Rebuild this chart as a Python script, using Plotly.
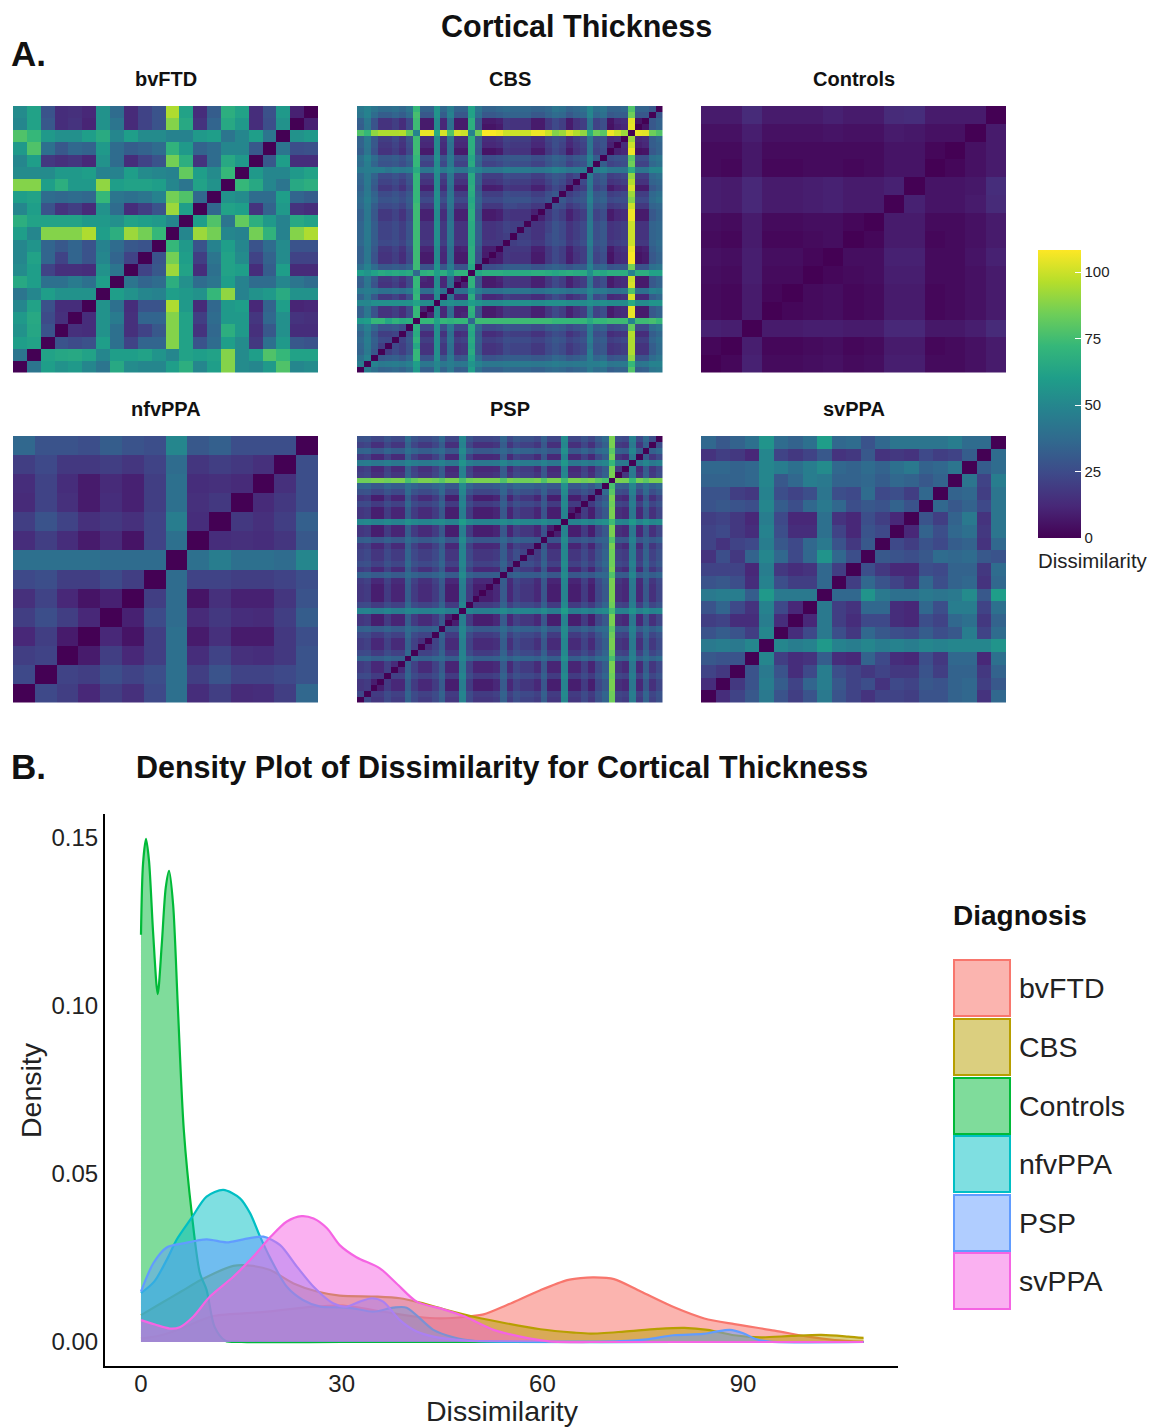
import plotly.graph_objects as go

GROUPS = ["bvFTD", "CBS", "Controls", "nfvPPA", "PSP", "svPPA"]
COLORS = ["#F8766D", "#B79F00", "#00BA38", "#00BFC4", "#619CFF", "#F564E3"]
FILLS = ["rgba(248,118,109,0.55)", "rgba(183,159,0,0.5)", "rgba(0,186,56,0.5)",
         "rgba(0,191,196,0.5)", "rgba(97,156,255,0.5)", "rgba(245,100,227,0.5)"]
CB_TICKS = [0, 25, 50, 75, 100]
DENS_X_TICKS = [0, 30, 60, 90]
DENS_Y_TICKS = [0.00, 0.05, 0.10, 0.15]

# Each matrix: rows counted from the bottom of the panel, cells left of the diagonal.
BVFTD = [
[42],
[60,62],
[55,64,28],
[58,65,25,15],
[50,62,27,14,14],
[42,50,60,55,55,55],
[65,60,40,40,45,40,60],
[52,60,22,15,15,14,55,42],
[50,62,35,22,35,28,50,35,22],
[50,56,35,30,35,28,48,38,30,28],
[60,50,88,88,88,95,60,68,92,85,72],
[68,62,62,62,62,58,58,54,62,60,58,50],
[50,60,28,16,20,13,55,38,14,20,28,92,60],
[60,62,38,36,38,36,72,42,40,42,48,85,78,36],
[88,88,60,68,58,58,90,60,62,62,60,50,42,62,55],
[52,52,52,58,58,60,48,48,60,52,50,48,82,60,52,72],
[50,60,18,15,17,12,55,38,14,22,28,85,68,16,38,65,58],
[58,78,40,30,36,34,58,38,32,34,38,70,58,34,38,50,50,30],
[78,72,58,54,54,60,66,50,60,52,52,48,48,58,60,42,50,60,42],
[50,62,30,14,16,11,55,42,13,22,28,88,65,16,35,65,58,14,26,55],
[52,62,28,14,15,12,55,38,13,22,28,95,62,14,32,68,62,14,27,58,10],
]

CBS = [
[46],
[40,48],
[34,44,30],
[35,45,32,20],
[37,46,33,25,24],
[34,44,30,20,20,22],
[40,47,36,28,28,30,26],
[58,60,72,72,64,70,66,68],
[33,43,28,16,16,20,14,24,72],
[33,43,28,16,16,20,14,24,72,10],
[50,50,54,54,54,54,54,55,62,52,52],
[34,43,30,18,18,22,16,26,72,12,12,52],
[44,46,44,40,40,42,40,44,70,38,38,54,40],
[32,42,28,16,16,20,14,24,72,10,10,52,12,40],
[33,43,30,18,18,22,16,24,72,12,10,52,12,40,10],
[60,56,62,66,64,66,64,66,36,68,70,60,68,58,70,70],
[40,48,38,30,30,32,30,34,74,28,28,56,30,46,28,28,64],
[33,43,28,16,16,20,14,24,74,8,8,52,12,40,8,8,68,26],
[33,43,28,16,16,20,14,24,74,8,8,52,12,40,8,8,68,26,8],
[33,43,30,18,18,22,16,26,74,11,11,52,14,40,10,11,68,28,9,9],
[36,44,32,24,24,26,22,30,74,18,18,54,20,42,18,18,66,32,18,18,18],
[35,44,32,22,22,25,20,28,74,16,16,54,18,42,16,16,66,32,16,16,18,20],
[35,44,32,22,22,25,20,28,74,16,16,54,18,42,16,16,66,32,16,16,18,22,20],
[35,44,32,22,22,25,20,28,74,16,16,54,18,42,16,16,66,32,16,16,18,22,20,20],
[33,43,30,18,18,22,16,25,74,10,10,52,14,40,10,10,68,28,8,8,10,18,16,16,16],
[33,43,30,18,18,22,16,25,74,10,10,52,14,40,10,10,68,28,8,8,10,18,16,16,16,10],
[36,44,32,24,24,26,22,30,74,18,18,54,20,42,18,18,66,32,18,18,18,24,24,22,22,18,18],
[38,46,36,28,28,30,26,32,72,24,24,54,26,44,24,24,64,34,24,24,24,28,28,28,28,24,24,28],
[36,44,34,25,25,28,24,30,72,20,20,54,22,42,20,20,66,32,20,20,20,26,24,24,24,20,20,26,30],
[33,43,30,18,18,22,16,25,72,10,10,52,14,40,10,10,68,28,9,9,10,18,16,16,16,10,10,18,24,20],
[35,44,32,22,22,25,20,28,72,16,16,52,18,42,16,16,66,32,16,16,18,22,20,20,20,16,16,22,28,24,16],
[36,44,34,25,25,28,24,30,72,20,20,52,22,42,20,20,66,32,20,20,20,26,24,24,24,20,20,26,30,28,20,24],
[44,46,46,46,42,46,44,46,66,42,42,54,44,50,42,42,54,48,42,42,42,46,44,44,44,42,42,44,48,46,42,44,44],
[38,46,35,28,28,30,26,32,72,22,22,52,24,44,22,22,66,34,22,22,24,28,26,26,26,22,22,28,32,30,22,26,28,46],
[40,48,38,30,30,32,28,34,72,26,26,54,28,44,26,26,64,36,26,26,28,30,30,30,30,26,26,30,34,32,26,30,32,48,32],
[32,42,28,16,16,20,14,24,74,8,8,52,12,40,8,8,68,28,6,6,8,18,16,16,16,8,8,18,24,20,8,16,20,42,22,26],
[34,43,30,18,18,22,16,26,74,12,12,52,14,40,12,12,68,30,12,12,14,20,18,18,18,12,12,20,26,22,12,18,22,42,24,28,10],
[34,44,30,20,20,24,18,28,74,14,14,52,16,42,14,14,68,30,14,14,16,22,20,20,20,14,14,22,26,24,14,20,24,42,26,28,12,14],
[78,72,90,95,95,95,96,82,48,105,105,66,102,78,102,100,48,85,108,108,106,100,100,100,100,106,106,100,88,92,102,96,90,68,84,80,106,100,92],
[32,42,28,16,16,20,14,24,74,8,8,52,12,40,8,8,68,28,6,6,8,18,16,16,16,8,8,18,24,20,8,16,20,42,22,26,5,10,12,105],
[33,43,28,16,16,20,14,24,74,8,8,52,12,40,8,8,68,28,8,8,10,18,16,16,16,8,8,18,24,20,8,16,20,42,22,26,6,12,14,104,6],
[42,48,38,32,32,35,32,38,76,30,30,56,32,48,30,30,62,40,30,30,32,34,34,34,34,30,30,34,38,36,30,34,36,50,36,40,30,32,32,84,30,30],
[44,48,42,38,38,40,36,42,72,34,34,56,36,46,34,34,62,42,34,34,36,38,36,36,36,34,34,36,42,40,34,36,40,50,40,42,34,34,36,78,34,34,30],
]

CONTROLS = [
[2],
[10,9],
[3,2,8],
[3,2,8,2],
[4,3,9,3,3],
[5,4,9,4,4,2],
[3,2,8,2,2,3,4],
[4,3,8,3,3,4,4,2],
[9,8,12,8,8,9,10,8,8],
[9,8,12,8,8,9,10,8,8,10],
[3,2,7,2,2,3,3,2,3,6,6],
[3,3,7,3,3,3,3,3,3,6,6,2],
[5,5,9,5,5,5,6,5,5,8,7,5,5],
[8,8,13,8,8,8,10,8,8,13,14,8,8,8],
]

NFVPPA = [
[24],
[20,22],
[12,20,8],
[20,26,20,12],
[15,22,12,6,10],
[24,26,20,20,25,20],
[40,40,40,40,38,38,38],
[14,20,14,8,13,6,22,40],
[20,28,22,15,18,15,22,46,14],
[13,22,15,8,14,10,20,40,15,18],
[14,22,14,8,13,10,20,40,14,15,13],
[20,24,18,18,20,17,22,38,17,20,18,15],
[36,28,28,26,32,28,26,50,30,33,26,26,26],
]

PSP = [
[24],
[17,19],
[17,19,9],
[24,25,19,19],
[19,21,12,12,21],
[19,21,12,12,21,13],
[34,35,32,32,35,33,33],
[24,25,19,19,25,21,21,36],
[19,21,12,12,21,13,13,33,21],
[19,21,12,12,21,13,13,33,21,15],
[24,25,19,19,25,21,21,36,25,22,22],
[33,34,31,31,34,31,31,38,34,32,32,34],
[17,19,9,9,19,11,11,32,19,13,13,19,30],
[17,19,9,9,19,11,11,32,19,13,13,19,30,9],
[48,49,46,46,49,46,46,50,49,47,47,49,50,46,46],
[24,25,19,19,25,21,21,36,25,22,22,25,34,19,19,49],
[17,19,9,9,19,11,11,32,19,13,13,19,30,9,9,46,19],
[17,19,9,9,19,11,11,32,19,13,13,19,30,9,9,46,19,9],
[17,19,9,9,19,11,11,32,19,13,13,19,30,9,9,46,19,9,9],
[19,21,12,12,21,13,13,33,21,15,15,21,31,12,12,47,21,12,12,12],
[33,34,31,31,34,31,31,38,34,32,32,34,38,31,31,52,34,31,31,31,32],
[19,21,12,12,21,13,13,33,21,15,15,21,31,12,12,47,21,12,12,12,13,31],
[26,27,21,21,27,23,23,37,27,24,24,27,35,21,21,50,27,21,21,21,23,34,23],
[22,24,17,17,24,19,19,35,24,20,20,24,33,17,17,49,24,17,17,17,19,32,19,26],
[22,24,17,17,24,19,19,35,24,20,20,24,33,17,17,49,24,17,17,17,19,32,19,26,22],
[19,21,12,12,21,13,13,33,21,15,15,21,31,12,12,47,21,12,12,12,13,31,13,22,19,19],
[32,33,29,29,33,30,30,38,33,30,30,33,38,29,29,52,33,29,29,29,30,36,30,34,32,32,30],
[17,19,9,9,19,11,11,32,19,13,13,19,30,9,9,46,19,9,9,9,11,30,11,21,17,17,11,28],
[17,19,9,9,19,11,11,32,19,13,13,19,30,9,9,46,19,9,9,9,11,30,11,21,17,17,11,28,9],
[50,51,48,48,51,48,48,54,51,49,49,51,52,48,48,60,51,48,48,48,49,52,49,52,50,50,49,52,48,48],
[17,19,9,9,19,11,11,32,19,13,13,19,30,9,9,46,19,9,9,9,11,30,11,21,17,17,11,28,9,9,48],
[17,19,9,9,19,11,11,32,19,13,13,19,30,9,9,46,19,9,9,9,11,30,11,21,17,17,11,28,9,9,48,9],
[24,25,19,19,25,21,21,36,25,22,22,25,34,19,19,49,25,19,19,19,21,33,21,27,24,24,21,31,19,19,51,19,19],
[17,19,9,9,19,11,11,32,19,13,13,19,30,9,9,46,19,9,9,9,11,30,11,21,17,17,11,28,9,9,48,9,9,19],
[27,28,23,23,28,24,24,38,28,25,25,28,36,23,23,50,28,23,23,23,24,35,24,30,27,27,24,33,23,23,52,23,23,28,23],
[34,35,30,30,35,32,32,40,35,32,32,35,38,30,30,52,35,30,30,30,32,36,32,36,34,34,32,34,30,30,54,30,30,35,30,37],
[84,84,86,86,84,86,86,76,82,86,86,84,80,86,86,76,84,86,86,86,86,78,86,84,84,84,86,78,86,86,74,86,86,84,86,80,76],
[21,23,15,15,23,17,17,34,23,18,18,23,32,15,15,48,23,15,15,15,17,32,17,24,21,21,17,30,15,15,50,15,15,23,15,26,33,86],
[19,21,12,12,21,13,13,33,21,15,15,21,31,12,12,47,21,12,12,12,13,31,13,22,19,19,13,29,12,12,48,12,12,21,12,24,32,85,17],
[45,46,43,43,46,43,43,48,46,44,44,46,48,43,43,56,46,43,43,43,44,50,44,47,45,45,44,48,43,43,58,43,43,46,43,47,50,72,44,44],
[19,21,12,12,21,13,13,33,21,15,15,21,31,12,12,47,21,12,12,12,13,31,13,22,19,19,13,29,12,12,48,12,12,21,12,24,32,85,17,13,43],
[34,35,30,30,35,32,32,40,35,32,32,35,38,30,30,52,35,30,30,30,32,36,32,36,34,34,32,34,30,30,54,30,30,35,30,37,40,80,33,32,50,32],
[21,23,15,15,23,17,17,34,23,18,18,23,32,15,15,48,23,15,15,15,17,32,17,24,21,21,17,30,15,15,50,15,15,23,15,26,33,86,19,17,44,17,33],
[27,28,23,23,28,24,24,38,28,25,25,28,36,23,23,50,28,23,23,23,24,35,24,30,27,27,24,33,23,23,52,23,23,28,23,31,37,86,26,24,47,24,37,26],
]

SVPPA = [
[14],
[22,18],
[30,28,28],
[44,46,44,50],
[28,32,28,20,50],
[20,22,14,14,46,14],
[28,35,24,16,48,24,12],
[44,46,46,32,58,44,44,44],
[28,30,26,14,48,26,20,20,36],
[22,22,22,12,46,18,14,16,36,20],
[16,26,18,34,50,36,24,36,56,36,26],
[22,16,22,24,46,30,24,36,44,28,18,30],
[22,24,18,14,48,26,14,14,40,22,12,28,24],
[20,22,18,12,46,24,12,12,40,16,12,26,20,12],
[28,30,28,26,50,32,26,36,44,36,26,30,28,34,28],
[28,28,20,18,48,26,22,26,42,26,24,38,24,26,20,36],
[34,34,34,36,50,30,36,46,44,34,34,36,32,36,34,30,34],
[36,36,34,36,50,46,40,46,52,36,34,38,34,40,44,34,36,42],
[16,20,18,12,50,22,18,22,30,16,18,30,16,18,16,24,20,22,32],
[36,30,34,40,56,38,34,40,60,36,38,28,36,42,42,42,42,46,38,38],
]

BVFTD_X = [0,3,6,9,11,18.8,25.8,30.2,36.2,41.2,44.7,48.7,51.2,54.7,59.7,63.7,65.7,67.7,70.7,74.7,79.7,84.2,88.7,94.7,99.7,103.7,108]
BVFTD_Y = [.001,.002,.004,.0065,.0078,.009,.0105,.0108,.009,.0075,.007,.0075,.0082,.011,.0154,.0184,.019,.0192,.0187,.015,.0103,.007,.0053,.0034,.0016,.0006,.0001]
CBS_X = [0,3,6,9,13.8,16.3,19.3,22.8,26.3,29.7,35.2,38.7,41.7,45.7,49.7,54.7,59.7,64.7,67.2,72.2,77.2,81.2,84.7,88.7,92.7,97.2,101.7,105.7,108]
CBS_Y = [.008,.0115,.015,.0185,.0226,.0227,.0214,.0174,.015,.0138,.0135,.013,.0117,.0095,.0075,.0055,.0038,.0028,.0025,.0031,.0039,.0042,.0036,.002,.0014,.0018,.0021,.0016,.0012]
CONTROLS_X = [0,.3,.75,1.2,1.8,2.5,3.1,3.7,4.2,4.8,5.5,6.4,7.6,8.8,9.8,11,12.6,15,30,50,80,108]
CONTROLS_Y = [.121,.142,.1495,.143,.122,.1034,.118,.135,.14,.13,.1,.063,.038,.0205,.0155,.0045,.0004,0,0,0,0,0]
NFVPPA_X = [0,2,4,5.3,7.6,9.8,12.3,14.8,16.3,17.8,19.3,21.8,24.2,26.8,29.3,31.7,34.7,37.7,39.7,43.7,46.7,50,55,80,108]
NFVPPA_Y = [.0145,.018,.025,.0303,.037,.0432,.0452,.0427,.0383,.0313,.025,.0164,.0125,.0105,.0103,.01,.009,.0102,.0102,.0036,.0014,.0003,0,0,0]
PSP_X = [0,1.84,3.84,6.33,9.82,12.8,15.3,18.3,20.8,23.3,25.8,28.7,30.7,32.7,34.5,36.2,38.7,41.2,43.7,48.7,55,71.6,75.6,79.6,84,86,88,90,92,94,108]
PSP_Y = [.015,.0234,.0281,.0293,.0305,.0296,.0305,.0313,.0288,.0224,.0164,.0115,.0105,.012,.013,.012,.0065,.0031,.0016,.0004,.0002,.0003,.0008,.002,.0024,.0031,.0036,.0026,.0008,.0001,0]
SVPPA_X = [0,2.1,4.3,5.8,7.8,10.3,13.8,16.8,19.3,21.8,24,25.8,27.8,29.7,32.2,35.7,38.2,41.2,45.2,48.2,52.7,56.7,61,70,108]
SVPPA_Y = [.0065,.0052,.004,.0044,.0075,.0135,.0194,.0254,.0311,.0358,.0374,.0367,.0338,.0288,.0252,.0219,.0174,.012,.0097,.0077,.0036,.0016,.0002,0,0]

W, H = 1153, 1427
FONT = "Liberation Sans"


def full(tri):
    n = len(tri) + 1
    m = [[0] * n for _ in range(n)]
    for i, row in enumerate(tri, start=1):
        for j in range(i):
            v = row[j] if j < len(row) else row[-1]
            m[i][j] = v
            m[j][i] = v
    return m


def px(v):
    return v / W


def py(v):
    return 1 - v / H


fig = go.Figure()
layout_axes = {}
PANELS = [
    (BVFTD, 13, 318, 106, 372.5), (CBS, 357, 662.5, 106, 372.5), (CONTROLS, 701, 1006, 106, 372.5),
    (NFVPPA, 13, 318, 436, 702.5), (PSP, 357, 662.5, 436, 702.5), (SVPPA, 701, 1006, 436, 702.5),
]
annotations = []


def label(text, x, y, size, bold=False, xanchor="center", color="#111111", rot=0):
    annotations.append(dict(
        text=f"<b>{text}</b>" if bold else text, x=px(x), y=py(y), xref="paper", yref="paper",
        xanchor=xanchor, yanchor="middle", showarrow=False, textangle=rot,
        font=dict(family=FONT, size=size, color=color)))


for k, (tri, x0, x1, y0, y1) in enumerate(PANELS):
    s = "" if k == 0 else str(k + 1)
    fig.add_trace(go.Heatmap(z=full(tri), coloraxis="coloraxis", xaxis=f"x{s}", yaxis=f"y{s}"))
    layout_axes[f"xaxis{s}"] = dict(domain=[px(x0), px(x1)], visible=False, anchor=f"y{s}")
    layout_axes[f"yaxis{s}"] = dict(domain=[py(y1), py(y0)], visible=False, anchor=f"x{s}")
    label(GROUPS[k], (x0 + x1) / 2, y0 - 27, 20, bold=True)

SERIES = [(BVFTD_X, BVFTD_Y), (CBS_X, CBS_Y), (CONTROLS_X, CONTROLS_Y),
          (NFVPPA_X, NFVPPA_Y), (PSP_X, PSP_Y), (SVPPA_X, SVPPA_Y)]
for name, (xs, ys), col, fil in zip(GROUPS, SERIES, COLORS, FILLS):
    fig.add_trace(go.Scatter(x=xs, y=ys, name=name, mode="lines", fill="tozeroy", fillcolor=fil,
                             line=dict(color=col, width=2.2, shape="spline", smoothing=0.8),
                             xaxis="x7", yaxis="y7", showlegend=False))

# x = 141 px at 0, 6.69 px per unit; y = 1342 px at 0, 3366 px per unit
layout_axes["xaxis7"] = dict(
    domain=[px(105), px(898)], range=[-5.38, 113.15], anchor="y7", tickvals=DENS_X_TICKS,
    ticktext=[str(t) for t in DENS_X_TICKS], showgrid=False, zeroline=False, showline=True,
    linecolor="black", linewidth=2, ticks="", ticklabelstandoff=-5,
    tickfont=dict(family=FONT, size=24, color="#222222"))
layout_axes["yaxis7"] = dict(
    domain=[py(1366), py(814)], range=[-0.00713, 0.1569], anchor="x7", tickvals=DENS_Y_TICKS,
    ticktext=[f"{t:.2f}" for t in DENS_Y_TICKS], showgrid=False, zeroline=False, showline=True,
    linecolor="black", linewidth=2, ticks="", tickfont=dict(family=FONT, size=24, color="#222222"))

label("Cortical Thickness", 576, 26, 30.5, bold=True)
label("A.", 9, 53, 35, bold=True, xanchor="left")
label("B.", 9, 766, 35, bold=True, xanchor="left")
label("Density Plot of Dissimilarity for Cortical Thickness", 501.5, 767, 30.5, bold=True)
label("Dissimilarity", 502, 1411, 28.5, color="#222222")
label("Density", 31, 1090, 28.5, color="#222222", rot=-90)
label("Dissimilarity", 1036, 561, 20.4, xanchor="left", color="#222222")
label("Diagnosis", 951, 915, 28, bold=True, xanchor="left")

shapes = []
SWATCH_TOPS = [959, 1018, 1077, 1135, 1194, 1252]
for name, col, fil, top in zip(GROUPS, COLORS, FILLS, SWATCH_TOPS):
    shapes.append(dict(type="rect", xref="paper", yref="paper", x0=px(954), x1=px(1010),
                       y0=py(top + 1), y1=py(top + 57), line=dict(color=col, width=2), fillcolor=fil))
    label(name, 1017, top + 29, 28.5, xanchor="left", color="#222222")

fig.update_layout(
    width=W, height=H, margin=dict(l=0, r=0, t=0, b=0), paper_bgcolor="white", plot_bgcolor="white",
    showlegend=False, annotations=annotations, shapes=shapes,
    font=dict(family=FONT),
    coloraxis=dict(
        colorscale="Viridis", cmin=0, cmax=108.3,
        colorbar=dict(
            x=px(1038), xanchor="left", xpad=0, y=py(538), yanchor="bottom", ypad=0,
            thickness=43, thicknessmode="pixels", len=288, lenmode="pixels", outlinewidth=0,
            tickvals=CB_TICKS, ticktext=[str(t) for t in CB_TICKS], ticks="inside", ticklen=6,
            tickcolor="white", tickfont=dict(family=FONT, size=15, color="#222222"))),
    **layout_axes)

fig.write_html("out.html", config={"displayModeBar": False}, post_script="document.body.style.margin='0';")
